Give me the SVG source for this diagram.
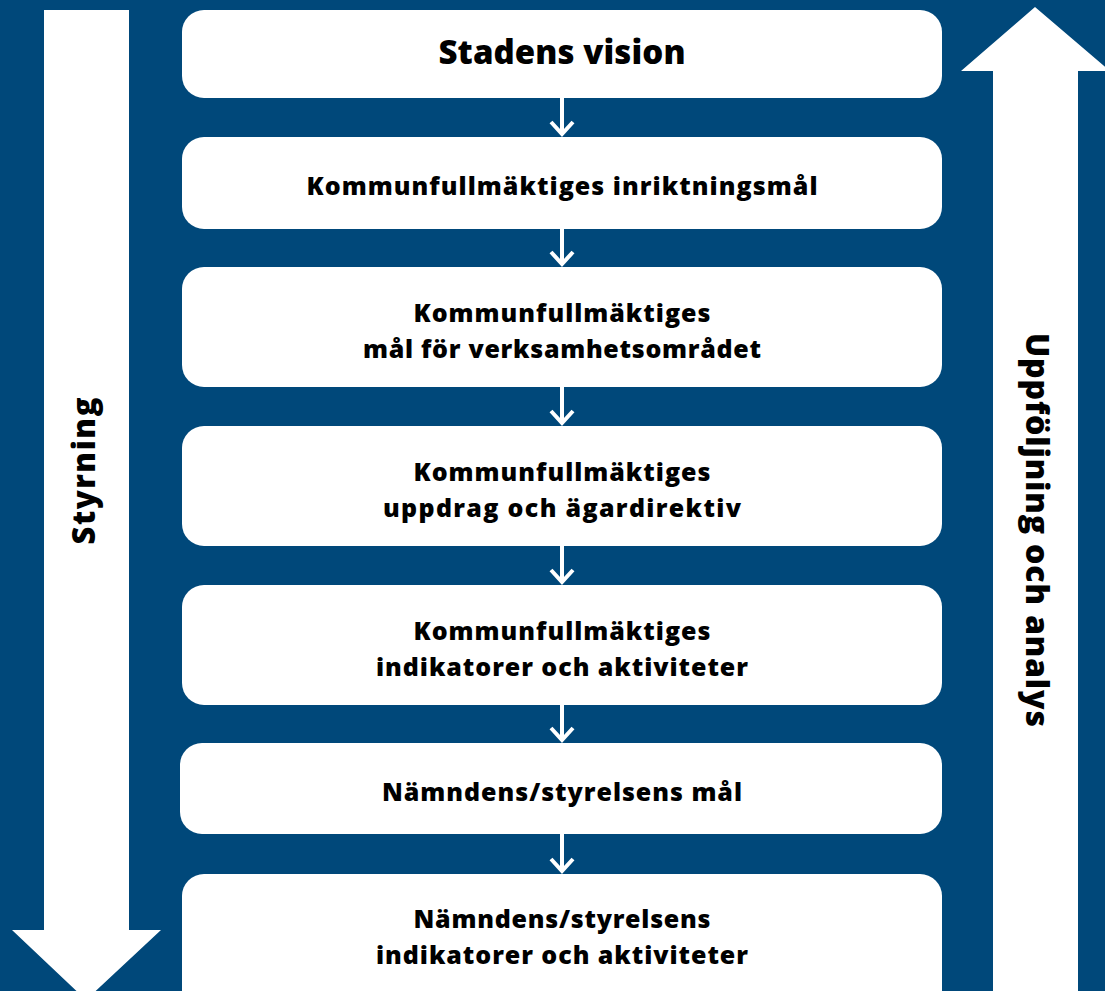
<svg xmlns="http://www.w3.org/2000/svg" width="1105" height="991" viewBox="0 0 1105 991">
  <style>
    .box { fill: #ffffff; }
    .big { fill: #ffffff; }
    .t { font-family: "Open Sans", "Liberation Sans", sans-serif; font-weight: 800; fill: #000000; text-anchor: middle; font-size: 25px; }
    .title { font-size: 33px; }
    .side { font-size: 31px; }
    .conn { stroke: #ffffff; stroke-width: 4; fill: none; }
  </style>
  <rect x="0" y="0" width="1105" height="991" fill="#00487a"/>

  <g id="styrning">
    <polygon class="big" points="44,10 129,10 129,930 161,930 86,1000 12,930 44,930"/>
    <text class="t side" transform="translate(95,471) rotate(-90)" textLength="147" lengthAdjust="spacing">Styrning</text>
  </g>

  <g id="uppfoljning">
    <polygon class="big" points="993,991 1078,991 1078,71 1110,71 1035,7 961,71 993,71"/>
    <text class="t side" style="font-size:32px" transform="translate(1026,530) rotate(90)" textLength="394" lengthAdjust="spacing">Uppföljning och analys</text>
  </g>

  <g id="connectors">
    <g class="conn">
      <path d="M562,98 V134 M551,122 L562,134 L573,122"/>
      <path d="M562,229 V264 M551,252 L562,264 L573,252"/>
      <path d="M562,387 V423 M551,411 L562,423 L573,411"/>
      <path d="M562,546 V582 M551,570 L562,582 L573,570"/>
      <path d="M562,705 V740 M551,728 L562,740 L573,728"/>
      <path d="M562,834 V871 M551,859 L562,871 L573,859"/>
    </g>
  </g>

  <g id="n1">
    <rect class="box" x="182" y="10" width="760" height="88" rx="22"/>
    <text class="t title" x="562" y="64" textLength="247" lengthAdjust="spacing">Stadens vision</text>
  </g>
  <g id="n2">
    <rect class="box" x="182" y="137" width="760" height="92" rx="22"/>
    <text class="t" x="562" y="195" textLength="511" lengthAdjust="spacing">Kommunfullmäktiges inriktningsmål</text>
  </g>
  <g id="n3">
    <rect class="box" x="182" y="267" width="760" height="120" rx="22"/>
    <text class="t" x="562" y="322" textLength="297" lengthAdjust="spacing">Kommunfullmäktiges</text>
    <text class="t" x="562" y="358" textLength="398" lengthAdjust="spacing">mål för verksamhetsområdet</text>
  </g>
  <g id="n4">
    <rect class="box" x="182" y="426" width="760" height="120" rx="22"/>
    <text class="t" x="562" y="481" textLength="297" lengthAdjust="spacing">Kommunfullmäktiges</text>
    <text class="t" x="562" y="517" textLength="358" lengthAdjust="spacing">uppdrag och ägardirektiv</text>
  </g>
  <g id="n5">
    <rect class="box" x="182" y="585" width="760" height="120" rx="22"/>
    <text class="t" x="562" y="640" textLength="297" lengthAdjust="spacing">Kommunfullmäktiges</text>
    <text class="t" x="562" y="676" textLength="372" lengthAdjust="spacing">indikatorer och aktiviteter</text>
  </g>
  <g id="n6">
    <rect class="box" x="180" y="743" width="762" height="91" rx="22"/>
    <text class="t" x="562" y="801" textLength="360" lengthAdjust="spacing">Nämndens/styrelsens mål</text>
  </g>
  <g id="n7">
    <rect class="box" x="182" y="874" width="760" height="140" rx="22"/>
    <text class="t" x="562" y="928" textLength="297" lengthAdjust="spacing">Nämndens/styrelsens</text>
    <text class="t" x="562" y="964" textLength="372" lengthAdjust="spacing">indikatorer och aktiviteter</text>
  </g>
</svg>
